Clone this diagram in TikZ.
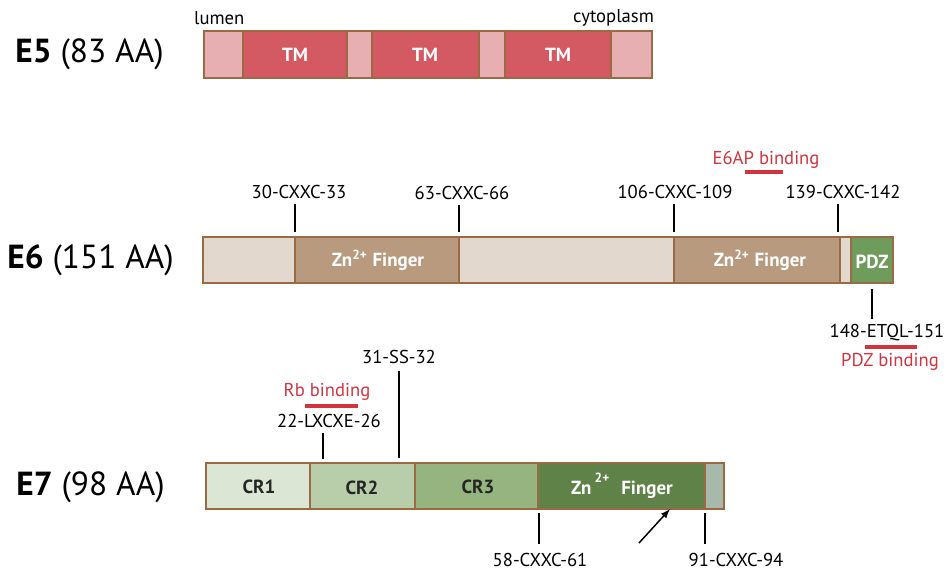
\documentclass[tikz,border=0pt]{standalone}
\usepackage{fontspec}
\setmainfont{PT Sans}
\usetikzlibrary{positioning}
\definecolor{edge}{HTML}{9A6A45}
\definecolor{tmlight}{HTML}{E8AFB2}
\definecolor{tmred}{HTML}{D35A62}
\definecolor{eslight}{HTML}{E3D8CD}
\definecolor{znbrown}{HTML}{B89B7F}
\definecolor{pdzgreen}{HTML}{6F9B5B}
\definecolor{crone}{HTML}{DCE6D5}
\definecolor{crtwo}{HTML}{B8CDA9}
\definecolor{crthree}{HTML}{95B47F}
\definecolor{zngreen}{HTML}{5E8248}
\definecolor{endgrey}{HTML}{A6B9AA}
\definecolor{bindred}{HTML}{D1343F}
\tikzset{
  seg/.style={draw=edge,line width=1.2pt},
  boxtxt/.style={font=\bfseries\fontsize{10.8}{13}\selectfont,text=white,inner sep=1pt},
  darktxt/.style={boxtxt,text=black!85},
  lab/.style={font=\fontsize{10.6}{13}\selectfont,inner sep=1pt},
  redlab/.style={lab,text=bindred},
  protname/.style={font=\fontsize{19}{22}\selectfont,anchor=west,inner sep=0pt},
  tick/.style={line width=0.85pt},
  redbar/.style={bindred,line width=2.4pt}
}
\begin{document}
\begin{tikzpicture}[x=0.02cm,y=-0.02cm]
\useasboundingbox (0,0) rectangle (946,574);
% E5
\node[protname] (e5) at (15,54) {\textbf{E5} (83 AA)};
\draw[seg,fill=tmlight] (204,31) rectangle (243,78);
\draw[seg,fill=tmred] (243,31) rectangle (347,78);
\draw[seg,fill=tmlight] (347,31) rectangle (372,78);
\draw[seg,fill=tmred] (372,31) rectangle (479,78);
\draw[seg,fill=tmlight] (479,31) rectangle (505,78);
\draw[seg,fill=tmred] (505,31) rectangle (611,78);
\draw[seg,fill=tmlight] (611,31) rectangle (652,78);
\node[boxtxt] (tm1) at (295,55) {TM};
\node[boxtxt] (tm2) at (425,55) {TM};
\node[boxtxt] (tm3) at (558,55) {TM};
\node[lab,anchor=west] (lumen) at (192,18) {lumen};
\node[lab,anchor=east] (cyto) at (656,18) {cytoplasm};
% E6
\node[protname] (e6) at (7,260) {\textbf{E6} (151 AA)};
\draw[seg,fill=eslight] (203,237) rectangle (295,283);
\draw[seg,fill=znbrown] (295,237) rectangle (459,283);
\draw[seg,fill=eslight] (459,237) rectangle (674,283);
\draw[seg,fill=znbrown] (674,237) rectangle (840,283);
\draw[seg,fill=eslight] (840,237) rectangle (851,283);
\draw[seg,fill=pdzgreen] (851,237) rectangle (893,283);
\node[boxtxt] (zn1) at (378,260) {Zn\textsuperscript{2+} Finger};
\node[boxtxt] (zn2) at (760,260) {Zn\textsuperscript{2+} Finger};
\node[boxtxt] (pdz) at (872,262) {PDZ};
\coordinate (t30) at (295,232);
\coordinate (t63) at (459,232);
\coordinate (t106) at (674,232);
\coordinate (t139) at (838,232);
\node[lab] (c30) at (299,192) {30-CXXC-33};
\node[lab] (c63) at (462,193) {63-CXXC-66};
\node[lab] (c106) at (675,192) {106-CXXC-109};
\node[lab] (c139) at (843,192) {139-CXXC-142};
\draw[tick,shorten <=2pt] (c30.south -| t30) -- (t30);
\draw[tick,shorten <=2pt] (c63.south -| t63) -- (t63);
\draw[tick,shorten <=2pt] (c106.south -| t106) -- (t106);
\draw[tick,shorten <=2pt] (c139.south -| t139) -- (t139);
\node[redlab] (e6ap) at (766,160) {E6AP binding};
\draw[redbar] (745,172) -- (783,172);
\coordinate (tpdz) at (872,289);
\node[lab] (etql) at (887,333) {148-ETQL-151};
\draw[tick,shorten >=2pt] (tpdz) -- (etql.north -| tpdz);
\draw[redbar] (865,347) -- (917,347);
\node[redlab] (pdzb) at (890,362) {PDZ binding};
% E7
\node[protname] (e7) at (16,487) {\textbf{E7} (98 AA)};
\draw[seg,fill=crone] (206,463) rectangle (310,509);
\draw[seg,fill=crtwo] (310,463) rectangle (415,509);
\draw[seg,fill=crthree] (415,463) rectangle (538,509);
\draw[seg,fill=zngreen] (538,463) rectangle (705,509);
\draw[seg,fill=endgrey] (705,463) rectangle (724,509);
\node[darktxt] (cr1) at (259,487) {CR1};
\node[darktxt] (cr2) at (362,488) {CR2};
\node[darktxt] (cr3) at (478,487) {CR3};
\node[boxtxt] (zn3) at (622,486) {Zn\,\raisebox{3pt}{\textsuperscript{2+}}\,\, Finger};
\node[redlab] (rb) at (327,392) {Rb binding};
\draw[redbar] (305,406) -- (358,406);
\coordinate (t22) at (323,459);
\node[lab] (lx) at (329,421) {22-LXCXE-26};
\draw[tick,shorten <=2pt] (lx.south -| t22) -- (t22);
\coordinate (t31) at (399,458);
\node[lab] (ss) at (399,357) {31-SS-32};
\draw[tick,shorten <=3pt] (ss.south -| t31) -- (t31);
\coordinate (t58) at (539,513);
\coordinate (t91) at (705,513);
\node[lab] (c58) at (540,560) {58-CXXC-61};
\node[lab] (c91) at (736,560) {91-CXXC-94};
\draw[tick,shorten >=4pt] (t58) -- (c58.north -| t58);
\draw[tick,shorten >=4pt] (t91) -- (c91.north -| t91);
\coordinate (ztail) at (639,543);
\coordinate (ztip) at (670,509);
\draw[tick,-latex] (ztail) -- (ztip);
\end{tikzpicture}
\end{document}
